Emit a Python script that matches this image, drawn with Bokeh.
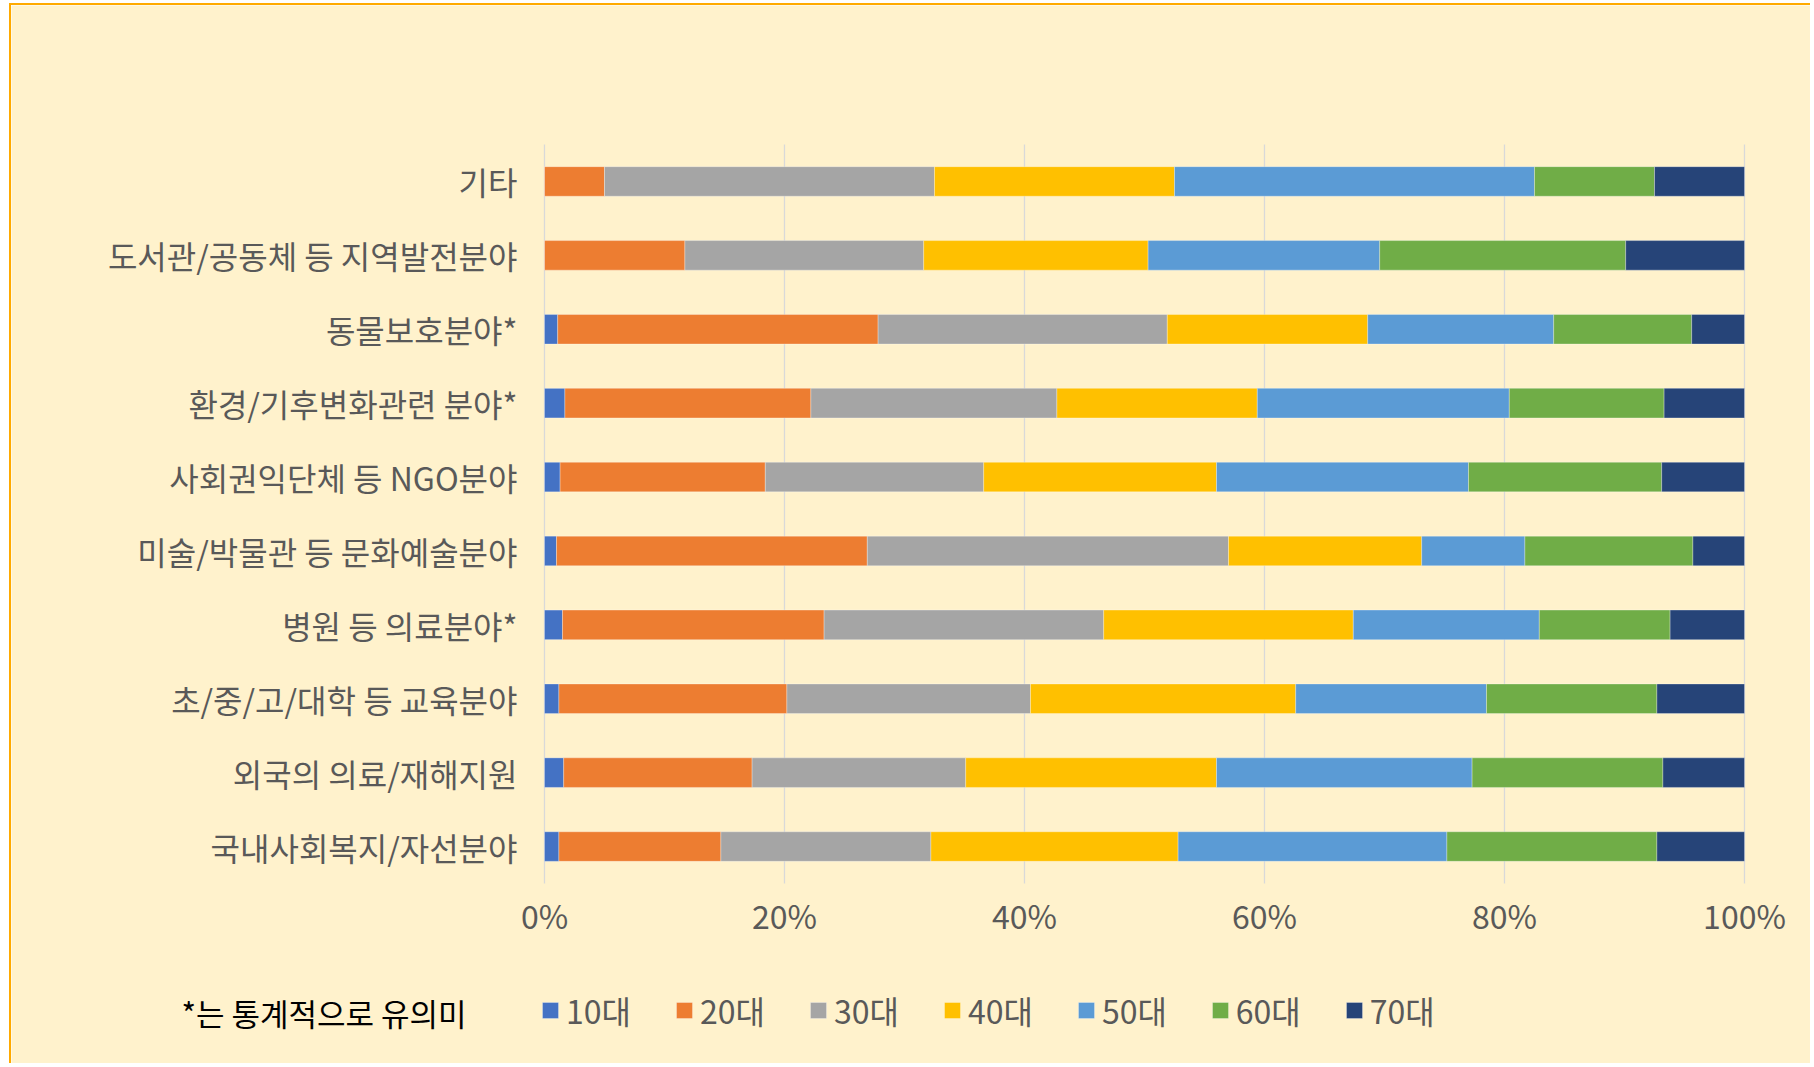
from bokeh.plotting import figure
from bokeh.models import (ColumnDataSource, Range1d, Legend, LegendItem, Label)
from bokeh.core.properties import value
from bokeh.embed import file_html
from bokeh.resources import INLINE

# ---- data (top-down order as shown in the chart) ----
categories = [
    "기타",
    "도서관/공동체 등 지역발전분야",
    "동물보호분야*",
    "환경/기후변화관련 분야*",
    "사회권익단체 등 NGO분야",
    "미술/박물관 등 문화예술분야",
    "병원 등 의료분야*",
    "초/중/고/대학 등 교육분야",
    "외국의 의료/재해지원",
    "국내사회복지/자선분야",
]
ages = ["10대", "20대", "30대", "40대", "50대", "60대", "70대"]
v10 = [0.0, 0.0, 1.1, 1.7, 1.3, 1.0, 1.5, 1.2, 1.6, 1.2]
v20 = [5.0, 11.7, 26.7, 20.5, 17.1, 25.9, 21.8, 19.0, 15.7, 13.5]
v30 = [27.5, 19.9, 24.1, 20.5, 18.2, 30.1, 23.3, 20.3, 17.8, 17.5]
v40 = [20.0, 18.7, 16.7, 16.7, 19.4, 16.1, 20.8, 22.1, 20.9, 20.6]
v50 = [30.0, 19.3, 15.5, 21.0, 21.0, 8.6, 15.5, 15.9, 21.3, 22.4]
v60 = [10.0, 20.5, 11.5, 12.9, 16.1, 14.0, 10.9, 14.2, 15.9, 17.5]
v70 = [7.5, 9.9, 4.4, 6.7, 6.9, 4.3, 6.2, 7.3, 6.8, 7.3]
colors = ["#4472C4", "#ED7D31", "#A5A5A5", "#FFC000", "#5B9BD5", "#70AD47", "#264478"]
tick_values = [0, 20, 40, 60, 80, 100]
tick_labels = ["0%", "20%", "40%", "60%", "80%", "100%"]
note_text = "*는 통계적으로 유의미"

# ---- styling / layout constants ----
FONT = "Noto Sans CJK KR"
BG = "#FFF2CC"
TXT = "#595959"
W, H = 1801, 1060
PX_L, PX_R = 533, 1733          # canvas x of 0% and 100%
PLOT_TOP, PLOT_BOT = 139, 878   # canvas y of the category band edges

series = [v10, v20, v30, v40, v50, v60, v70]
n = len(categories)
ypos = [n - 1 - i for i in range(n)]

data = {"y": ypos, "cat": categories}
for a, v in zip(ages, series):
    data[a] = v
source = ColumnDataSource(data=data)

xs = (PX_R - PX_L) / 100.0
ys = (PLOT_BOT - PLOT_TOP) / n
x_range = Range1d(-PX_L / xs, 100 + (W - PX_R) / xs)
y_range = Range1d(-0.5 - (H - PLOT_BOT) / ys, n - 0.5 + PLOT_TOP / ys)

p = figure(width=W, height=H, x_range=x_range, y_range=y_range,
           x_axis_location=None, y_axis_location=None,
           output_backend="svg", toolbar_location=None, title=None,
           min_border=0, min_border_left=0, min_border_right=0,
           min_border_top=0, min_border_bottom=0)
p.background_fill_color = BG
p.border_fill_color = BG
p.outline_line_color = None
p.grid.visible = False
p.styles = {"margin-left": "9px", "margin-top": "3px",
            "border-left": "2px solid #FFAA00", "border-top": "2px solid #FFAA00"}

# vertical gridlines at the tick values
grid_src = ColumnDataSource(data=dict(x=tick_values,
                                      y0=[-0.5] * len(tick_values),
                                      y1=[n - 0.5] * len(tick_values),
                                      label=tick_labels))
p.segment(x0="x", y0="y0", x1="x", y1="y1", source=grid_src,
          line_color="#D9D9D9", line_width=1.3)

# stacked bars
renderers = p.hbar_stack(ages, y="y", height=0.4, source=source,
                         fill_color=colors, line_color="#FFFFFF",
                         line_width=0.6, line_alpha=0.5)

# x tick labels
p.text(x="x", y="y0", text="label", source=grid_src, y_offset=31,
       text_align="center", text_baseline="middle",
       text_font=value(FONT), text_font_size=value("32px"), text_color=TXT)

# category labels
cat_src = ColumnDataSource(data=dict(x=[0] * n, y=ypos, cat=categories))
p.text(x="x", y="y", text="cat", source=cat_src, x_offset=-27,
       text_align="right", text_baseline="middle",
       text_font=value(FONT), text_font_size=value("32px"), text_color=TXT)

legend = Legend(items=[LegendItem(label=a, renderers=[r]) for a, r in zip(ages, renderers)],
                orientation="horizontal", location=(529, 32),
                padding=0, margin=0, spacing=43,
                glyph_width=20, glyph_height=20, label_standoff=6,
                label_text_font=FONT, label_text_font_size="32px",
                label_text_color=TXT,
                background_fill_alpha=0, border_line_color=None)
p.add_layout(legend)

note = Label(x=170, y=53, x_units="screen", y_units="screen",
             text=note_text, text_font=FONT, text_font_size="31px",
             text_color="#000000", text_baseline="middle", text_align="left")
p.add_layout(note)

open("out.html", "w").write(file_html(p, INLINE))
